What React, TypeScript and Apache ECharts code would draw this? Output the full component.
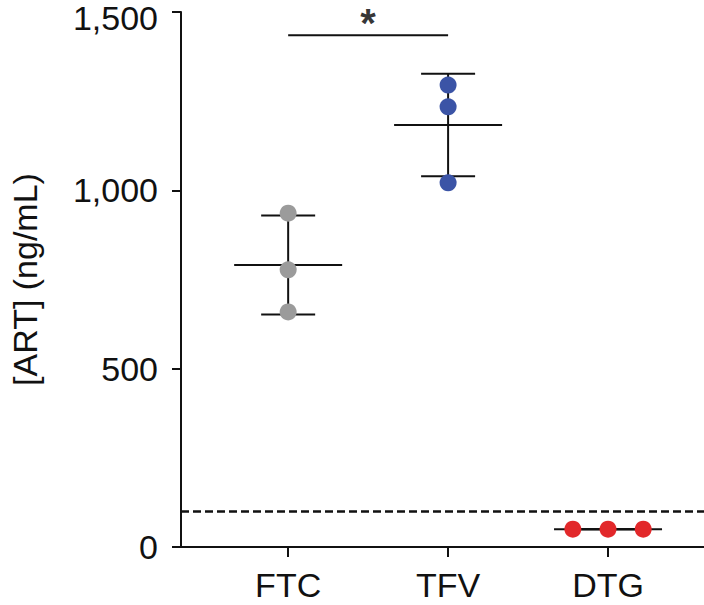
import React, { useEffect, useRef } from "react";
import * as echarts from "echarts";

const categories = ["FTC", "TFV", "DTG"];
const categoryPositions = [1, 2, 3];
const ftcValues = [936, 777, 659];
const tfvValues = [1295, 1234, 1021];
const dtgValues = [50, 50, 50];
const dtgJitter = [-0.22, 0, 0.22];
const pointColors = ["#9b9b9b", "#3b54a6", "#e2282a"];
const yTicks = [0, 500, 1000, 1500];
const lloqValue = 100;
const sigBarValue = 1435;
const sigLabel = "*";

const groups = [ftcValues, tfvValues, dtgValues];

function meanSd(v: number[]) {
  const m = v.reduce((a, b) => a + b, 0) / v.length;
  const sd = Math.sqrt(v.reduce((a, b) => a + (b - m) * (b - m), 0) / (v.length - 1));
  return [m, sd];
}

const FONT = "'Liberation Sans', Arial, Helvetica, sans-serif";

export default function App() {
  const ref = useRef<HTMLDivElement>(null);
  useEffect(() => {
    if (!ref.current) return;
    const chart = echarts.init(ref.current, null, { renderer: "svg" });
    const errData = groups.map((g, i) => {
      const [m, sd] = meanSd(g);
      return [categoryPositions[i], m, sd];
    });
    const black = "#111";
    const yMax = yTicks[yTicks.length - 1];
    const scatterSeries = groups.map((g, i) => ({
      type: "scatter",
      z: 5,
      symbolSize: 17,
      itemStyle: { color: pointColors[i], opacity: 1 },
      data: g.map((v, j) => [categoryPositions[i] + (i === 2 ? dtgJitter[j] : 0), v]),
    }));
    chart.setOption({
      animation: false,
      grid: { left: 181, right: 0, top: 12, bottom: 58, containLabel: false, outerBoundsMode: "none" },
      xAxis: {
        type: "value",
        min: 0.33,
        max: 3.6,
        splitLine: { show: false },
        axisLine: { show: true, onZero: false, lineStyle: { color: black, width: 2 } },
        axisTick: {
          show: true,
          customValues: categoryPositions,
          length: 10,
          lineStyle: { color: black, width: 2 },
        },
        axisLabel: {
          customValues: categoryPositions,
          formatter: (v: number) => categories[categoryPositions.indexOf(Math.round(v))] ?? "",
          fontSize: 34,
          fontFamily: FONT,
          color: black,
          margin: 21,
        },
      },
      yAxis: {
        type: "value",
        min: yTicks[0],
        max: yMax,
        interval: 500,
        name: "[ART] (ng/mL)",
        nameLocation: "middle",
        nameRotate: 90,
        nameGap: 139,
        nameTextStyle: { fontSize: 34, fontFamily: FONT, color: black },
        splitLine: { show: false },
        axisLine: { show: true, lineStyle: { color: black, width: 2 } },
        axisTick: { show: true, length: 9, lineStyle: { color: black, width: 2 } },
        axisLabel: {
          fontSize: 34,
          fontFamily: FONT,
          color: black,
          margin: 23,
          formatter: (v: number) =>
            v === yMax ? "{top|" + v.toLocaleString("en-US") + "}" : v.toLocaleString("en-US"),
          rich: {
            top: { fontSize: 34, fontFamily: FONT, color: black, padding: [12, 0, 0, 0] },
          },
        },
      },
      series: [
        {
          type: "custom",
          z: 3,
          data: errData,
          renderItem: (params: any, api: any) => {
            const x = api.value(0);
            const m = api.value(1);
            const sd = api.value(2);
            const c = api.coord([x, m]);
            const t = api.coord([x, m + sd]);
            const b = api.coord([x, m - sd]);
            const style = { stroke: black, lineWidth: 2 };
            return {
              type: "group",
              children: [
                { type: "line", shape: { x1: c[0], y1: t[1], x2: c[0], y2: b[1] }, style },
                { type: "line", shape: { x1: c[0] - 27, y1: t[1], x2: c[0] + 27, y2: t[1] }, style },
                { type: "line", shape: { x1: c[0] - 27, y1: b[1], x2: c[0] + 27, y2: b[1] }, style },
                { type: "line", shape: { x1: c[0] - 54, y1: c[1], x2: c[0] + 54, y2: c[1] }, style },
              ],
            };
          },
          markLine: {
            silent: true,
            symbol: "none",
            label: { show: false },
            lineStyle: { color: black, width: 2.5, type: [8, 4] },
            data: [{ yAxis: lloqValue }],
          },
        },
        {
          type: "line",
          symbol: "none",
          lineStyle: { color: black, width: 2 },
          data: [
            [categoryPositions[0], sigBarValue],
            [categoryPositions[1], sigBarValue],
          ],
        },
        {
          type: "scatter",
          symbolSize: 1,
          itemStyle: { color: "rgba(0,0,0,0)" },
          label: {
            show: true,
            position: "top",
            distance: -8,
            formatter: sigLabel,
            fontSize: 40,
            fontWeight: "bold",
            fontFamily: FONT,
            color: "#000",
          },
          data: [[(categoryPositions[0] + categoryPositions[1]) / 2, sigBarValue]],
        },
        ...scatterSeries,
      ],
    });
    return () => chart.dispose();
  }, []);
  return (
    <div
      ref={ref}
      style={{ position: "absolute", left: 0, top: 0, width: 704, height: 605, background: "#fff" }}
    />
  );
}
